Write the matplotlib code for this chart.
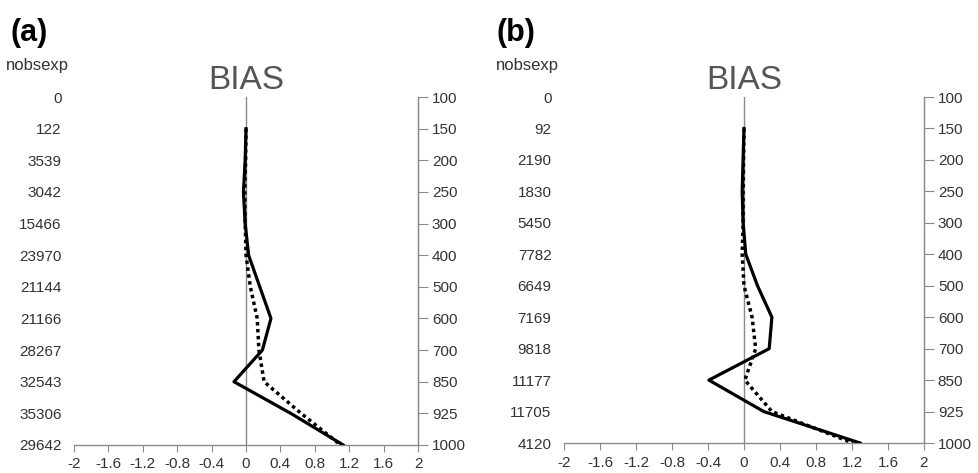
import numpy as np
import matplotlib
matplotlib.use("Agg")
import matplotlib.pyplot as plt

plt.rcParams['font.family'] = ['Liberation Sans', 'DejaVu Sans']

### data
levels = ["100", "150", "200", "250", "300", "400", "500", "600", "700", "850", "925", "1000"]
nobs_a = ["0", "122", "3539", "3042", "15466", "23970", "21144", "21166", "28267", "32543", "35306", "29642"]
nobs_b = ["0", "92", "2190", "1830", "5450", "7782", "6649", "7169", "9818", "11177", "11705", "4120"]

# bias from 150 hPa down to 1000 hPa
solid_a = [0.0, -0.01, -0.03, -0.01, 0.03, 0.16, 0.29, 0.19, -0.14, 0.52, 1.13]
dotted_a = [0.0, -0.005, -0.015, -0.01, 0.0, 0.05, 0.13, 0.15, 0.21, 0.64, 1.10]
solid_b = [0.0, -0.01, -0.02, -0.01, 0.02, 0.15, 0.31, 0.28, -0.39, 0.22, 1.29]
dotted_b = [0.0, -0.005, -0.01, -0.01, -0.02, 0.0, 0.09, 0.13, 0.01, 0.31, 1.21]

xticks = [-2, -1.6, -1.2, -0.8, -0.4, 0, 0.4, 0.8, 1.2, 1.6, 2]
xlabels = ["-2", "-1.6", "-1.2", "-0.8", "-0.4", "0", "0.4", "0.8", "1.2", "1.6", "2"]

grey = "#8a8a8a"
txt = "#333333"
fs = 11

fig = plt.figure(figsize=(9.79, 4.73), dpi=100)


def panel(rect, nobs, solid, dotted, letter, letter_x, nobs_x):
    ax = fig.add_axes(rect)
    ypos = np.arange(len(levels))
    ax.set_ylim(len(levels) - 1, 0)
    ax.set_xlim(-2, 2)

    ax.axvline(0, color=grey, lw=1, zorder=1)
    ax.plot(solid, ypos[1:], color="black", lw=2.3, zorder=3)
    ax.plot(dotted, ypos[1:], color="black", lw=2.5, ls=(0, (1, 1)), zorder=3)

    for s in ["top", "left"]:
        ax.spines[s].set_visible(False)
    for s in ["bottom", "right"]:
        ax.spines[s].set_color(grey)
        ax.spines[s].set_linewidth(1)

    ax.set_xticks(xticks)
    ax.set_xticklabels(xlabels)
    ax.tick_params(axis="x", colors=grey, labelcolor=txt, length=5, pad=4, labelsize=fs)

    # counts on the left
    ax.set_yticks(ypos)
    ax.set_yticklabels(nobs)
    ax.tick_params(axis="y", left=False, length=0, pad=9, labelcolor=txt, labelsize=fs)

    # pressure levels on the right
    ax2 = ax.twinx()
    ax2.set_ylim(len(levels) - 1, 0)
    ax2.set_yticks(ypos)
    ax2.set_yticklabels(levels)
    ax2.tick_params(axis="y", colors=grey, labelcolor=txt, length=7, pad=3, labelsize=fs)
    for s in ["top", "left", "bottom"]:
        ax2.spines[s].set_visible(False)
    ax2.spines["right"].set_color(grey)

    ax.set_title("BIAS", fontsize=24, color="#555555", pad=6)
    fig.text(letter_x, 0.93, letter, fontsize=22, fontweight="bold", ha="left", va="center")
    fig.text(nobs_x, 0.862, "nobsexp", fontsize=12, color=txt, ha="right", va="center")
    return ax


panel([0.0756, 0.0592, 0.3514, 0.7357], nobs_a, solid_a, dotted_a, "(a)", 0.011, 0.070)
panel([0.5761, 0.0634, 0.3677, 0.7315], nobs_b, solid_b, dotted_b, "(b)", 0.507, 0.571)

plt.savefig("out.png", dpi=100)
